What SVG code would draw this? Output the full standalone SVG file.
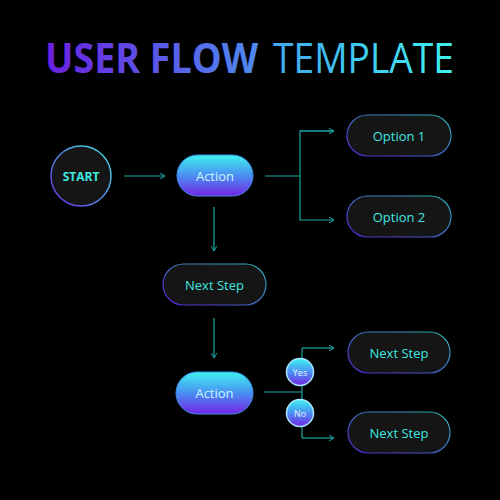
<svg xmlns="http://www.w3.org/2000/svg" width="500" height="500" viewBox="0 0 500 500">
<defs>
<linearGradient id="tUser" x1="45" y1="0" x2="258" y2="0" gradientUnits="userSpaceOnUse"><stop offset="0" stop-color="#6a1fe0"/><stop offset="1" stop-color="#4f8af0"/></linearGradient>
<linearGradient id="tTmpl" x1="273" y1="0" x2="455" y2="0" gradientUnits="userSpaceOnUse"><stop offset="0" stop-color="#42a8f4"/><stop offset="1" stop-color="#3ff2ee"/></linearGradient>
<linearGradient id="fillV" x1="0" y1="0" x2="0" y2="1"><stop offset="0" stop-color="#3ef3f0"/><stop offset="0.5" stop-color="#4a8ff2"/><stop offset="1" stop-color="#7424e6"/></linearGradient>
<linearGradient id="strokeD" x1="0" y1="1" x2="1" y2="0"><stop offset="0" stop-color="#5a1fd0"/><stop offset="1" stop-color="#2ab8b4"/></linearGradient>
<linearGradient id="circleS" x1="0" y1="1" x2="1" y2="0"><stop offset="0" stop-color="#6a2be0"/><stop offset="1" stop-color="#3ee8e4"/></linearGradient>
<marker id="arr" viewBox="0 0 10 10" refX="9" refY="5" markerWidth="7" markerHeight="7" orient="auto" markerUnits="userSpaceOnUse"><path d="M2,1 L9,5 L2,9" fill="none" stroke="#1fa8a4" stroke-width="1.4"/></marker>
<style>
.t{font-family:"Open Sans","Noto Sans",sans-serif;text-anchor:middle;dominant-baseline:central}
.pill{fill:#151515;stroke:url(#strokeD);stroke-width:1.2}
.act{fill:url(#fillV);stroke:#3a8ee8;stroke-width:1}
.lbl{fill:#40e6e0;font-size:13px}
.albl{fill:#c8f8ff;font-size:13px}
.yn{fill:url(#fillV);stroke:#a9e6ff;stroke-width:1.5}
.ynl{fill:#e6f2ff;font-size:9px}
.c{fill:none;stroke:#1fa8a4;stroke-width:1.2}
</style>
</defs>
<rect width="500" height="500" fill="#000"/>
<g id="title">
<text x="45" y="73" font-family="'Open Sans',sans-serif" font-size="42" font-weight="bold" fill="url(#tUser)" textLength="213" lengthAdjust="spacingAndGlyphs">USER FLOW</text>
<text x="273" y="73" font-family="'Open Sans',sans-serif" font-size="42" fill="url(#tTmpl)" textLength="181" lengthAdjust="spacingAndGlyphs">TEMPLATE</text>
</g>
<g id="connectors">
<line class="c" x1="124" y1="176" x2="165" y2="176" marker-end="url(#arr)"/>
<polyline class="c" points="265,176 300,176"/>
<polyline class="c" points="334,131 300,131 300,220 334,220" marker-end="url(#arr)"/>
<line class="c" x1="300" y1="131" x2="334" y2="131" marker-end="url(#arr)"/>
<line class="c" x1="214" y1="207" x2="214" y2="251" marker-end="url(#arr)"/>
<line class="c" x1="214" y1="318" x2="214" y2="358" marker-end="url(#arr)"/>
<line class="c" x1="264" y1="392" x2="302" y2="392"/>
<polyline class="c" points="302,348 302,438"/>
<line class="c" x1="302" y1="348" x2="334" y2="348" marker-end="url(#arr)"/>
<line class="c" x1="302" y1="438" x2="334" y2="438" marker-end="url(#arr)"/>
</g>
<g id="start">
<circle cx="81" cy="176" r="30" fill="#151515" stroke="url(#circleS)" stroke-width="1.5"/>
<text class="t" x="81" y="176" font-size="12" font-weight="bold" fill="#40e8e0">START</text>
</g>
<g id="action1">
<rect class="act" x="177" y="155" width="76" height="41" rx="20.5"/>
<text class="t albl" x="215" y="175.5">Action</text>
</g>
<g id="option1">
<rect class="pill" x="347" y="115" width="104" height="41" rx="20.5"/>
<text class="t lbl" x="399" y="135.5">Option 1</text>
</g>
<g id="option2">
<rect class="pill" x="347" y="196" width="104" height="41" rx="20.5"/>
<text class="t lbl" x="399" y="216.5">Option 2</text>
</g>
<g id="nextstep1">
<rect class="pill" x="163" y="264" width="103" height="41" rx="20.5"/>
<text class="t lbl" x="214.5" y="284.5">Next Step</text>
</g>
<g id="action2">
<rect class="act" x="176" y="372" width="77" height="42" rx="21"/>
<text class="t albl" x="214.5" y="393">Action</text>
</g>
<g id="yes">
<circle class="yn" cx="300" cy="372" r="13.5"/>
<text class="t ynl" x="300" y="372">Yes</text>
</g>
<g id="no">
<circle class="yn" cx="300" cy="413" r="13.5"/>
<text class="t ynl" x="300" y="413">No</text>
</g>
<g id="nextstep2">
<rect class="pill" x="348" y="332" width="102" height="41" rx="20.5"/>
<text class="t lbl" x="399" y="352.5">Next Step</text>
</g>
<g id="nextstep3">
<rect class="pill" x="348" y="412" width="102" height="41" rx="20.5"/>
<text class="t lbl" x="399" y="432.5">Next Step</text>
</g>
</svg>
